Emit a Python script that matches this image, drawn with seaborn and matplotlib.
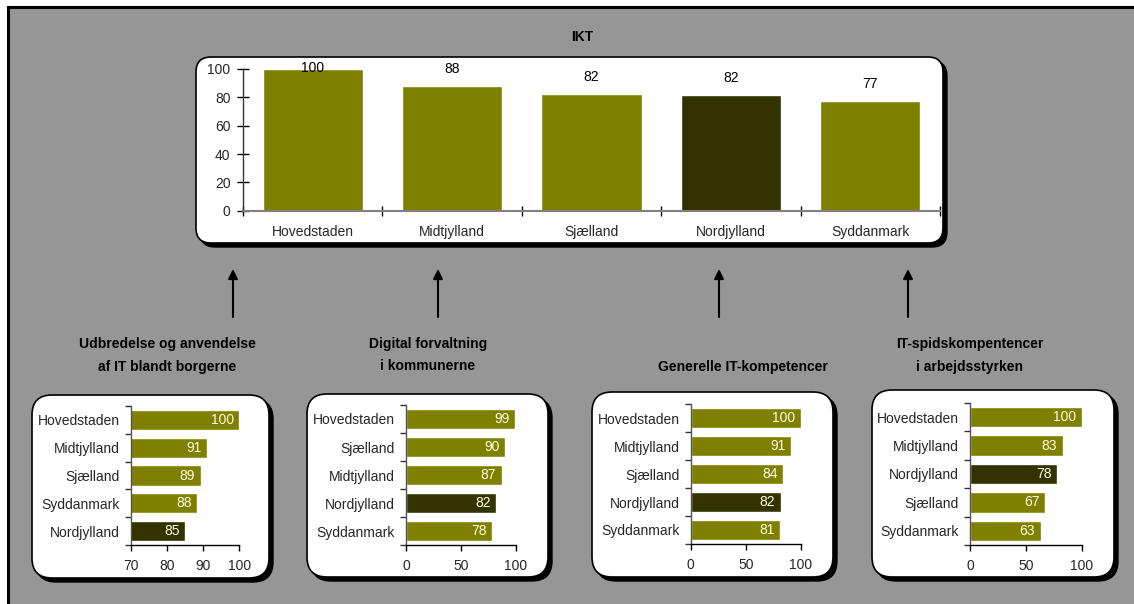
import matplotlib
matplotlib.use("Agg")
import matplotlib.pyplot as plt
import seaborn as sns
import pandas as pd
from matplotlib.patches import FancyBboxPatch, Rectangle, FancyArrowPatch
from matplotlib.ticker import FixedLocator

# ---------------- data ----------------
title_top = "IKT"
top_regions = ["Hovedstaden", "Midtjylland", "Sjælland", "Nordjylland", "Syddanmark"]
top_values = [100, 88, 82.4, 81.6, 77.4]

p1_title = ["Udbredelse og anvendelse", "af IT blandt borgerne"]
p1_regions = ["Hovedstaden", "Midtjylland", "Sjælland", "Syddanmark", "Nordjylland"]
p1_values = [100, 91, 89.3, 88.4, 85]
p1_ticks = [70, 80, 90, 100]

p2_title = ["Digital forvaltning", "i kommunerne"]
p2_regions = ["Hovedstaden", "Sjælland", "Midtjylland", "Nordjylland", "Syddanmark"]
p2_values = [99, 90, 87, 82, 78]
p2_ticks = [0, 50, 100]

p3_title = ["Generelle IT-kompetencer"]
p3_regions = ["Hovedstaden", "Midtjylland", "Sjælland", "Nordjylland", "Syddanmark"]
p3_values = [100, 91, 84, 82, 81]
p3_ticks = [0, 50, 100]

p4_title = ["IT-spidskompentencer", "i arbejdsstyrken"]
p4_regions = ["Hovedstaden", "Midtjylland", "Nordjylland", "Sjælland", "Syddanmark"]
p4_values = [100, 83, 78, 67, 63]
p4_ticks = [0, 50, 100]

highlight = "Nordjylland"
OLIVE = "#808000"
DARK = "#333300"
GRAY_BG = "#969696"

# ---------------- setup ----------------
sns.set_theme(style="white")
plt.rcParams["font.family"] = ["Liberation Sans", "DejaVu Sans"]
plt.rcParams["font.size"] = 10

W, H = 1134, 604
fig = plt.figure(figsize=(W / 100, H / 100), dpi=100)
fig.patch.set_facecolor("white")
T = fig.dpi_scale_trans


def ax_at(l, t, r, b):
    return fig.add_axes([l / W, 1 - b / H, (r - l) / W, (b - t) / H])


def rbox(l, t, r, b, rad, sh=4):
    s = FancyBboxPatch(((l + sh) / 100, (H - b - sh) / 100), (r - l) / 100, (b - t) / 100,
                       boxstyle=f"round,pad=0,rounding_size={rad / 100}",
                       transform=T, fc="black", ec="black", lw=1, zorder=-5)
    w = FancyBboxPatch((l / 100, (H - b) / 100), (r - l) / 100, (b - t) / 100,
                       boxstyle=f"round,pad=0,rounding_size={rad / 100}",
                       transform=T, fc="white", ec="black", lw=1.2, zorder=-4)
    fig.add_artist(s)
    fig.add_artist(w)


def ftext(x, y, s, **kw):
    fig.text(x / W, 1 - y / H, s, ha="center", va="center", **kw)


# gray background panel with black border
fig.add_artist(Rectangle((8 / 100, -0.1), 12, (H - 7) / 100 + 0.1, transform=T,
                         fc=GRAY_BG, ec="black", lw=2.2, zorder=-10))

# ---------------- top chart ----------------
rbox(196, 57, 943, 243, 15)
ax = ax_at(243, 69, 940, 210.7)
df = pd.DataFrame({"region": top_regions, "value": top_values})
pal = {r: (DARK if r == highlight else OLIVE) for r in top_regions}
sns.barplot(data=df, x="region", y="value", hue="region", palette=pal, legend=False,
            width=0.72, saturation=1, ax=ax)
ax.set_xlim(-0.5, len(top_regions) - 0.5)
ax.set_ylim(0, 100)
ax.patch.set_alpha(0)
ax.set_xlabel("")
ax.set_ylabel("")
ax.set_yticks([0, 20, 40, 60, 80, 100])
ax.tick_params(axis="y", direction="inout", length=8, width=1, color="black", pad=5,
               labelsize=10, left=True)
ax.tick_params(axis="x", which="major", length=0, pad=10, labelsize=10)
ax.xaxis.set_minor_locator(FixedLocator([i - 0.5 for i in range(len(top_regions) + 1)]))
ax.tick_params(axis="x", which="minor", direction="inout", length=7, width=1,
               color="black", bottom=True)
for sp in ["top", "right"]:
    ax.spines[sp].set_visible(False)
ax.spines["left"].set_color("#333333")
ax.spines["left"].set_linewidth(1)
ax.spines["bottom"].set_color("#808080")
ax.spines["bottom"].set_linewidth(1.5)
for i, v in enumerate(top_values):
    ax.text(i, min(v + 12, 100.5), f"{v:.0f}", ha="center", va="center",
            fontsize=10, color="black", clip_on=False)
ftext(582, 37, title_top, fontsize=10, fontweight="bold", color="black")

# ---------------- bottom panels ----------------
panels = [
    (p1_title, p1_regions, p1_values, p1_ticks, (70, 100), (32, 395, 269, 578), (130.7, 406, 239.3, 545), 167, 233),
    (p2_title, p2_regions, p2_values, p2_ticks, (0, 100), (307, 394, 548, 577), (406, 405, 516, 545), 428, 438),
    (p3_title, p3_regions, p3_values, p3_ticks, (0, 100), (592, 392, 833, 577), (690.7, 404, 800.7, 544), 743, 719),
    (p4_title, p4_regions, p4_values, p4_ticks, (0, 100), (872, 390, 1114, 577), (970, 403, 1082, 545), 970, 908),
]

for title, regs, vals, ticks, xlim, box, axpos, tx, arrx in panels:
    rbox(*box, 20)
    a = ax_at(*axpos)
    d = pd.DataFrame({"region": regs, "value": vals})
    pal = {r: (DARK if r == highlight else OLIVE) for r in regs}
    sns.barplot(data=d, y="region", x="value", hue="region", palette=pal, legend=False,
                orient="h", width=0.72, saturation=1, ax=a)
    a.set_xlim(*xlim)
    a.set_ylim(len(regs) - 0.5, -0.5)
    a.patch.set_alpha(0)
    a.set_xlabel("")
    a.set_ylabel("")
    a.set_xticks(ticks)
    a.tick_params(axis="x", direction="out", length=4, width=1, color="black", pad=6,
                  labelsize=10, bottom=True)
    a.tick_params(axis="y", which="major", length=0, pad=8, labelsize=10)
    a.yaxis.set_minor_locator(FixedLocator([i - 0.5 for i in range(len(regs) + 1)]))
    a.tick_params(axis="y", which="minor", direction="out", length=4, width=1,
                  color="#333333", left=True)
    for sp in ["top", "right"]:
        a.spines[sp].set_visible(False)
    a.spines["left"].set_color("#555555")
    a.spines["left"].set_linewidth(1)
    a.spines["bottom"].set_color("black")
    a.spines["bottom"].set_linewidth(1)
    span = xlim[1] - xlim[0]
    for i, v in enumerate(vals):
        a.text(v - span * 0.05, i, f"{v:.0f}", ha="right", va="center",
               fontsize=10, color="#FFFFE8")

    # subtitle
    if len(title) == 2:
        ftext(tx, 344, title[0], fontsize=10, fontweight="bold", color="black")
        ftext(tx, 366.5, title[1], fontsize=10, fontweight="bold", color="black")
    else:
        ftext(tx, 367, title[0], fontsize=10, fontweight="bold", color="black")

    # arrow
    fig.add_artist(FancyArrowPatch((arrx / 100, (H - 317) / 100), (arrx / 100, (H - 269) / 100),
                                   transform=T, arrowstyle="-|>", mutation_scale=14,
                                   lw=1.5, color="black", shrinkA=0, shrinkB=0))

fig.savefig("out.png", dpi=100)
